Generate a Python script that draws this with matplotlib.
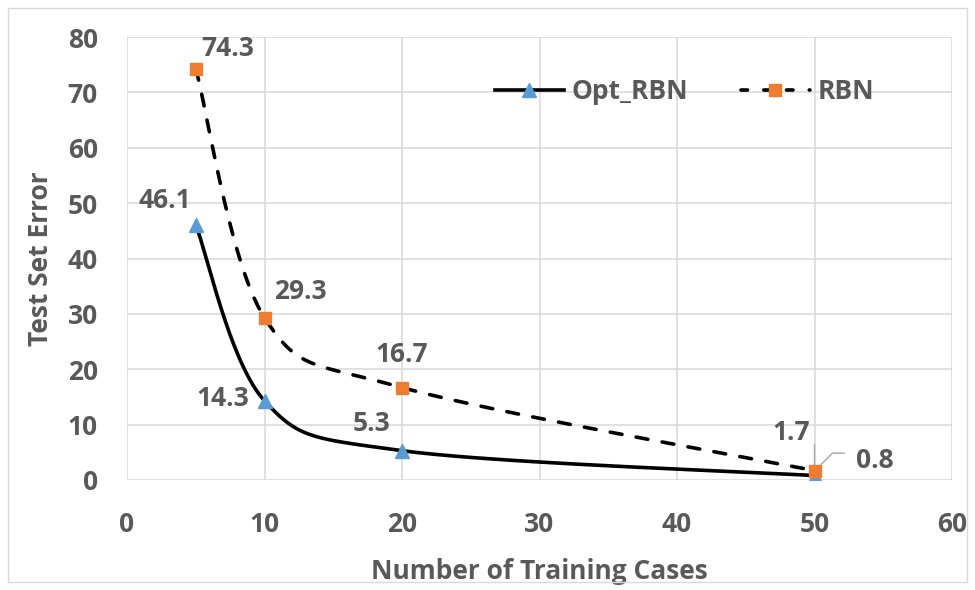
import numpy as np
import matplotlib
matplotlib.use("Agg")
import matplotlib.pyplot as plt
from matplotlib.lines import Line2D
from matplotlib.patches import Rectangle

# Data
cases = [5, 10, 20, 50]
opt_rbn = [46.1, 14.3, 5.3, 0.8]
rbn = [74.3, 29.3, 16.7, 1.7]
xticks = [0, 10, 20, 30, 40, 50, 60]
yticks = [0, 10, 20, 30, 40, 50, 60, 70, 80]

plt.rcParams['font.family'] = ['Open Sans', 'DejaVu Sans']
GREY = '#595959'
BLUE = '#5B9BD5'
ORANGE = '#ED7D31'
FS = 19
LW = 2.6
DASH = (0, (3.3, 4.0))

fig = plt.figure(figsize=(9.75, 5.9), dpi=100)
ax = fig.add_axes([127/975, 110/590, (952-127)/975, (480-37)/590])
ax.set_xlim(0, 60)
ax.set_ylim(0, 80)

def smooth(xs, ys, sx, sy, n=60):
    # Catmull-Rom style Bezier smoothing in display-proportional space
    P = np.column_stack([np.array(xs, float) * sx, np.array(ys, float) * sy])
    out = []
    for i in range(len(P) - 1):
        p0 = P[i - 1] if i > 0 else P[i]
        p1, p2 = P[i], P[i + 1]
        p3 = P[i + 2] if i + 2 < len(P) else P[i + 1]
        c1 = p1 + (p2 - p0) / 6.0
        c2 = p2 - (p3 - p1) / 6.0
        t = np.linspace(0, 1, n)[:, None]
        seg = ((1-t)**3)*p1 + 3*((1-t)**2)*t*c1 + 3*(1-t)*t**2*c2 + t**3*p2
        out.append(seg if i == 0 else seg[1:])
    S = np.vstack(out)
    return S[:, 0] / sx, S[:, 1] / sy

sx, sy = 13.75, 5.54
xo, yo = smooth(cases, opt_rbn, sx, sy)
xr, yr = smooth(cases, rbn, sx, sy)

ax.plot(xo, yo, color='black', lw=LW, solid_capstyle='round', zorder=3)
ax.plot(xr, yr, color='black', lw=LW, ls=DASH, dash_capstyle='round', zorder=3)
ax.plot(cases, opt_rbn, ls='none', marker='^', ms=10.5, color=BLUE, mec=BLUE, zorder=4)
ax.plot(cases, rbn, ls='none', marker='s', ms=9, color=ORANGE, mec=ORANGE, zorder=5)

ax.set_xticks(xticks)
ax.set_yticks(yticks)
ax.grid(True, color='#D9D9D9', lw=1.1)
ax.set_axisbelow(True)
for s in ax.spines.values():
    s.set_visible(False)
ax.tick_params(length=0, labelsize=FS, colors=GREY)
ax.tick_params(axis='x', pad=22)
ax.tick_params(axis='y', pad=21)
for lab in ax.get_xticklabels() + ax.get_yticklabels():
    lab.set_fontweight('bold')

ax.set_xlabel('Number of Training Cases', fontsize=FS, fontweight='bold', color=GREY, labelpad=15)
ax.set_ylabel('Test Set Error', fontsize=FS, fontweight='bold', color=GREY, labelpad=10)

lab_kw = dict(fontsize=FS, fontweight='bold', color=GREY, ha='center', va='center',
              textcoords='offset pixels', zorder=6)
offsets_opt = [(-31, 24), (-42, 2), (-30, 27), (60, 15)]
offsets_rbn = [(32, 20), (36, 26), (0, 33), (-23, 38)]
for x, y, (dx, dy) in zip(cases, opt_rbn, offsets_opt):
    ax.annotate(f'{y}', (x, y), xytext=(dx, dy), **lab_kw)
for x, y, (dx, dy) in zip(cases, rbn, offsets_rbn):
    ax.annotate(f'{y}', (x, y), xytext=(dx, dy), **lab_kw)

# Leader lines for crowded labels at x=50
ax.annotate('', (cases[3], rbn[3]), xytext=(0, 26), textcoords='offset pixels',
            arrowprops=dict(arrowstyle='-', color='#A6A6A6', lw=1, shrinkA=0, shrinkB=0), zorder=2)
ax.annotate('', (cases[3], opt_rbn[3] + 0.8), xytext=(30, 18), textcoords='offset pixels',
            arrowprops=dict(arrowstyle='-', color='#A6A6A6', lw=1, shrinkA=0, shrinkB=0,
                            connectionstyle='angle,angleA=0,angleB=45,rad=0'), zorder=2)

handles = [
    Line2D([], [], color='black', lw=LW, marker='^', ms=10.5, mfc=BLUE, mec=BLUE),
    Line2D([], [], color='black', lw=LW, ls=(0, (1.8, 4.5)), dash_capstyle='round',
           marker='s', ms=9, mfc=ORANGE, mec=ORANGE),
]
leg = ax.legend(handles, ['Opt_RBN', 'RBN'], loc='center', bbox_to_anchor=(0.676, 0.876),
                ncol=2, frameon=False, fontsize=FS, handlelength=2.6, columnspacing=2.0,
                handletextpad=0.3, borderpad=0)
for t in leg.get_texts():
    t.set_color(GREY)
    t.set_fontweight('bold')

fig.patches.append(Rectangle((8/975, 8/590), 959/975, 574/590, transform=fig.transFigure,
                             fill=False, edgecolor='#D9D9D9', lw=1))

fig.savefig('out.png', dpi=100)
